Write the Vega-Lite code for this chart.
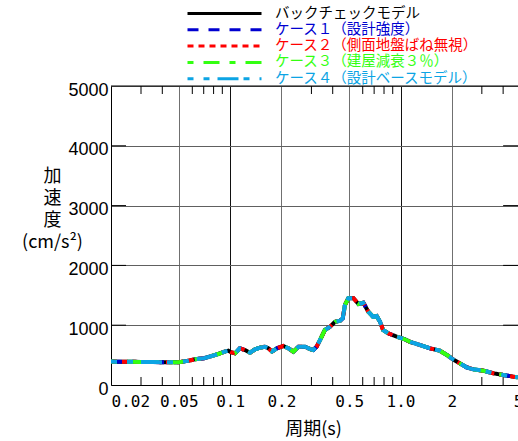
{
  "$schema": "https://vega.github.io/schema/vega-lite/v6.json",
  "width": 407,
  "height": 299,
  "autosize": "none",
  "padding": {"left": 111, "top": 86, "right": 0, "bottom": 56},
  "config": {"view": {"stroke": null}, "font": "Noto Sans CJK JP"},
  "layer": [
    {
      "data": {"values": [{"T": 0.03}, {"T": 0.04}, {"T": 0.06}, {"T": 0.07}, {"T": 0.08}, {"T": 0.09}, {"T": 0.3}, {"T": 0.4}, {"T": 0.6}, {"T": 0.7}, {"T": 0.8}, {"T": 0.9}, {"T": 3}, {"T": 4}]},
      "mark": {"type": "rule", "color": "black", "strokeWidth": 1},
      "encoding": {"x": {"field": "T", "type": "quantitative"}, "y": {"datum": 0}, "y2": {"datum": 134}}
    },
    {
      "data": {"values": [{"T": 0.03}, {"T": 0.04}, {"T": 0.06}, {"T": 0.07}, {"T": 0.08}, {"T": 0.09}, {"T": 0.3}, {"T": 0.4}, {"T": 0.6}, {"T": 0.7}, {"T": 0.8}, {"T": 0.9}, {"T": 3}, {"T": 4}]},
      "mark": {"type": "rule", "color": "black", "strokeWidth": 1},
      "encoding": {"x": {"field": "T", "type": "quantitative"}, "y": {"datum": 5000}, "y2": {"datum": 4866}}
    },
    {
      "data": {"values": [{"v": 1000}, {"v": 2000}, {"v": 3000}, {"v": 4000}]},
      "mark": {"type": "rule", "color": "black", "strokeWidth": 1},
      "encoding": {"y": {"field": "v", "type": "quantitative"}, "x": {"datum": 0.02}, "x2": {"datum": 0.0245}}
    },
    {
      "data": {"values": [{"v": 1000}, {"v": 2000}, {"v": 3000}, {"v": 4000}]},
      "mark": {"type": "rule", "color": "black", "strokeWidth": 1},
      "encoding": {"y": {"field": "v", "type": "quantitative"}, "x": {"datum": 4.0}, "x2": {"datum": 4.89}}
    },
    {
      "data": {"values": [{}]},
      "mark": {"type": "rule", "color": "black", "strokeWidth": 1},
      "encoding": {"y": {"datum": 5000}}
    },
    {
      "data": {"values": [
        {"T": 0.02, "バックチェックモデル": 392, "ケース１（設計強度）": 392, "ケース２（側面地盤ばね無視）": 393, "ケース３（建屋減衰３％）": 391, "ケース４（設計ベースモデル）": 392},
        {"T": 0.025, "バックチェックモデル": 388, "ケース１（設計強度）": 388, "ケース２（側面地盤ばね無視）": 388, "ケース３（建屋減衰３％）": 388, "ケース４（設計ベースモデル）": 388},
        {"T": 0.03, "バックチェックモデル": 386, "ケース１（設計強度）": 386, "ケース２（側面地盤ばね無視）": 386, "ケース３（建屋減衰３％）": 386, "ケース４（設計ベースモデル）": 386},
        {"T": 0.035, "バックチェックモデル": 384, "ケース１（設計強度）": 384, "ケース２（側面地盤ばね無視）": 384, "ケース３（建屋減衰３％）": 384, "ケース４（設計ベースモデル）": 384},
        {"T": 0.04, "バックチェックモデル": 382, "ケース１（設計強度）": 382, "ケース２（側面地盤ばね無視）": 382, "ケース３（建屋減衰３％）": 382, "ケース４（設計ベースモデル）": 382},
        {"T": 0.045, "バックチェックモデル": 381, "ケース１（設計強度）": 381, "ケース２（側面地盤ばね無視）": 381, "ケース３（建屋減衰３％）": 381, "ケース４（設計ベースモデル）": 381},
        {"T": 0.05, "バックチェックモデル": 382, "ケース１（設計強度）": 382, "ケース２（側面地盤ばね無視）": 382, "ケース３（建屋減衰３％）": 382, "ケース４（設計ベースモデル）": 382},
        {"T": 0.054, "バックチェックモデル": 395, "ケース１（設計強度）": 395, "ケース２（側面地盤ばね無視）": 395, "ケース３（建屋減衰３％）": 395, "ケース４（設計ベースモデル）": 395},
        {"T": 0.057, "バックチェックモデル": 406, "ケース１（設計強度）": 406, "ケース２（側面地盤ばね無視）": 406, "ケース３（建屋減衰３％）": 406, "ケース４（設計ベースモデル）": 406},
        {"T": 0.062, "バックチェックモデル": 430, "ケース１（設計強度）": 430, "ケース２（側面地盤ばね無視）": 430, "ケース３（建屋減衰３％）": 430, "ケース４（設計ベースモデル）": 430},
        {"T": 0.07, "バックチェックモデル": 446, "ケース１（設計強度）": 446, "ケース２（側面地盤ばね無視）": 446, "ケース３（建屋減衰３％）": 446, "ケース４（設計ベースモデル）": 446},
        {"T": 0.078, "バックチェックモデル": 485, "ケース１（設計強度）": 485, "ケース２（側面地盤ばね無視）": 485, "ケース３（建屋減衰３％）": 485, "ケース４（設計ベースモデル）": 485},
        {"T": 0.085, "バックチェックモデル": 518, "ケース１（設計強度）": 518, "ケース２（側面地盤ばね無視）": 518, "ケース３（建屋減衰３％）": 518, "ケース４（設計ベースモデル）": 518},
        {"T": 0.092, "バックチェックモデル": 555, "ケース１（設計強度）": 555, "ケース２（側面地盤ばね無視）": 555, "ケース３（建屋減衰３％）": 555, "ケース４（設計ベースモデル）": 555},
        {"T": 0.0977, "バックチェックモデル": 574, "ケース１（設計強度）": 574, "ケース２（側面地盤ばね無視）": 574, "ケース３（建屋減衰３％）": 574, "ケース４（設計ベースモデル）": 574},
        {"T": 0.102, "バックチェックモデル": 545, "ケース１（設計強度）": 545, "ケース２（側面地盤ばね無視）": 545, "ケース３（建屋減衰３％）": 545, "ケース４（設計ベースモデル）": 545},
        {"T": 0.107, "バックチェックモデル": 530, "ケース１（設計強度）": 530, "ケース２（側面地盤ばね無視）": 530, "ケース３（建屋減衰３％）": 530, "ケース４（設計ベースモデル）": 530},
        {"T": 0.114, "バックチェックモデル": 613, "ケース１（設計強度）": 613, "ケース２（側面地盤ばね無視）": 613, "ケース３（建屋減衰３％）": 613, "ケース４（設計ベースモデル）": 613},
        {"T": 0.122, "バックチェックモデル": 585, "ケース１（設計強度）": 585, "ケース２（側面地盤ばね無視）": 585, "ケース３（建屋減衰３％）": 585, "ケース４（設計ベースモデル）": 585},
        {"T": 0.131, "バックチェックモデル": 540, "ケース１（設計強度）": 540, "ケース２（側面地盤ばね無視）": 540, "ケース３（建屋減衰３％）": 540, "ケース４（設計ベースモデル）": 540},
        {"T": 0.14, "バックチェックモデル": 596, "ケース１（設計強度）": 596, "ケース２（側面地盤ばね無視）": 596, "ケース３（建屋減衰３％）": 596, "ケース４（設計ベースモデル）": 596},
        {"T": 0.15, "バックチェックモデル": 625, "ケース１（設計強度）": 625, "ケース２（側面地盤ばね無視）": 625, "ケース３（建屋減衰３％）": 625, "ケース４（設計ベースモデル）": 625},
        {"T": 0.16, "バックチェックモデル": 640, "ケース１（設計強度）": 640, "ケース２（側面地盤ばね無視）": 640, "ケース３（建屋減衰３％）": 640, "ケース４（設計ベースモデル）": 640},
        {"T": 0.168, "バックチェックモデル": 613, "ケース１（設計強度）": 613, "ケース２（側面地盤ばね無視）": 613, "ケース３（建屋減衰３％）": 613, "ケース４（設計ベースモデル）": 613},
        {"T": 0.176, "バックチェックモデル": 560, "ケース１（設計強度）": 560, "ケース２（側面地盤ばね無視）": 560, "ケース３（建屋減衰３％）": 560, "ケース４（設計ベースモデル）": 560},
        {"T": 0.188, "バックチェックモデル": 613, "ケース１（設計強度）": 613, "ケース２（側面地盤ばね無視）": 613, "ケース３（建屋減衰３％）": 613, "ケース４（設計ベースモデル）": 613},
        {"T": 0.205, "バックチェックモデル": 652, "ケース１（設計強度）": 652, "ケース２（側面地盤ばね無視）": 652, "ケース３（建屋減衰３％）": 652, "ケース４（設計ベースモデル）": 652},
        {"T": 0.22, "バックチェックモデル": 613, "ケース１（設計強度）": 613, "ケース２（側面地盤ばね無視）": 613, "ケース３（建屋減衰３％）": 613, "ケース４（設計ベースモデル）": 613},
        {"T": 0.235, "バックチェックモデル": 557, "ケース１（設計強度）": 557, "ケース２（側面地盤ばね無視）": 557, "ケース３（建屋減衰３％）": 557, "ケース４（設計ベースモデル）": 557},
        {"T": 0.252, "バックチェックモデル": 640, "ケース１（設計強度）": 640, "ケース２（側面地盤ばね無視）": 640, "ケース３（建屋減衰３％）": 640, "ケース４（設計ベースモデル）": 640},
        {"T": 0.275, "バックチェックモデル": 641, "ケース１（設計強度）": 641, "ケース２（側面地盤ばね無視）": 641, "ケース３（建屋減衰３％）": 641, "ケース４（設計ベースモデル）": 641},
        {"T": 0.295, "バックチェックモデル": 600, "ケース１（設計強度）": 600, "ケース２（側面地盤ばね無視）": 600, "ケース３（建屋減衰３％）": 600, "ケース４（設計ベースモデル）": 600},
        {"T": 0.308, "バックチェックモデル": 585, "ケース１（設計強度）": 585, "ケース２（側面地盤ばね無視）": 585, "ケース３（建屋減衰３％）": 585, "ケース４（設計ベースモデル）": 585},
        {"T": 0.322, "バックチェックモデル": 641, "ケース１（設計強度）": 641, "ケース２（側面地盤ばね無視）": 641, "ケース３（建屋減衰３％）": 641, "ケース４（設計ベースモデル）": 641},
        {"T": 0.337, "バックチェックモデル": 752, "ケース１（設計強度）": 752, "ケース２（側面地盤ばね無視）": 752, "ケース３（建屋減衰３％）": 752, "ケース４（設計ベースモデル）": 752},
        {"T": 0.36, "バックチェックモデル": 920, "ケース１（設計強度）": 920, "ケース２（側面地盤ばね無視）": 920, "ケース３（建屋減衰３％）": 920, "ケース４（設計ベースモデル）": 920},
        {"T": 0.386, "バックチェックモデル": 975, "ケース１（設計強度）": 975, "ケース２（側面地盤ばね無視）": 975, "ケース３（建屋減衰３％）": 975, "ケース４（設計ベースモデル）": 975},
        {"T": 0.413, "バックチェックモデル": 1058, "ケース１（設計強度）": 1058, "ケース２（側面地盤ばね無視）": 1058, "ケース３（建屋減衰３％）": 1058, "ケース４（設計ベースモデル）": 1058},
        {"T": 0.442, "バックチェックモデル": 1075, "ケース１（設計強度）": 1075, "ケース２（側面地盤ばね無視）": 1075, "ケース３（建屋減衰３％）": 1075, "ケース４（設計ベースモデル）": 1075},
        {"T": 0.458, "バックチェックモデル": 1115, "ケース１（設計強度）": 1115, "ケース２（側面地盤ばね無視）": 1115, "ケース３（建屋減衰３％）": 1115, "ケース４（設計ベースモデル）": 1115},
        {"T": 0.472, "バックチェックモデル": 1338, "ケース１（設計強度）": 1338, "ケース２（側面地盤ばね無視）": 1338, "ケース３（建屋減衰３％）": 1338, "ケース４（設計ベースモデル）": 1338},
        {"T": 0.494, "バックチェックモデル": 1450, "ケース１（設計強度）": 1450, "ケース２（側面地盤ばね無視）": 1450, "ケース３（建屋減衰３％）": 1450, "ケース４（設計ベースモデル）": 1450},
        {"T": 0.53, "バックチェックモデル": 1450, "ケース１（設計強度）": 1450, "ケース２（側面地盤ばね無視）": 1450, "ケース３（建屋減衰３％）": 1450, "ケース４（設計ベースモデル）": 1450},
        {"T": 0.566, "バックチェックモデル": 1354, "ケース１（設計強度）": 1354, "ケース２（側面地盤ばね無視）": 1354, "ケース３（建屋減衰３％）": 1354, "ケース４（設計ベースモデル）": 1354},
        {"T": 0.605, "バックチェックモデル": 1376, "ケース１（設計強度）": 1376, "ケース２（側面地盤ばね無視）": 1376, "ケース３（建屋減衰３％）": 1376, "ケース４（設計ベースモデル）": 1376},
        {"T": 0.647, "バックチェックモデル": 1226, "ケース１（設計強度）": 1226, "ケース２（側面地盤ばね無視）": 1226, "ケース３（建屋減衰３％）": 1226, "ケース４（設計ベースモデル）": 1226},
        {"T": 0.69, "バックチェックモデル": 1142, "ケース１（設計強度）": 1142, "ケース２（側面地盤ばね無視）": 1142, "ケース３（建屋減衰３％）": 1142, "ケース４（設計ベースモデル）": 1142},
        {"T": 0.724, "バックチェックモデル": 1154, "ケース１（設計強度）": 1154, "ケース２（側面地盤ばね無視）": 1154, "ケース３（建屋減衰３％）": 1154, "ケース４（設計ベースモデル）": 1154},
        {"T": 0.758, "バックチェックモデル": 1058, "ケース１（設計強度）": 1058, "ケース２（側面地盤ばね無視）": 1058, "ケース３（建屋減衰３％）": 1058, "ケース４（設計ベースモデル）": 1058},
        {"T": 0.79, "バックチェックモデル": 920, "ケース１（設計強度）": 920, "ケース２（側面地盤ばね無視）": 920, "ケース３（建屋減衰３％）": 920, "ケース４（設計ベースモデル）": 920},
        {"T": 0.847, "バックチェックモデル": 864, "ケース１（設計強度）": 864, "ケース２（側面地盤ばね無視）": 864, "ケース３（建屋減衰３％）": 864, "ケース４（設計ベースモデル）": 864},
        {"T": 0.95, "バックチェックモデル": 808, "ケース１（設計強度）": 808, "ケース２（側面地盤ばね無視）": 808, "ケース３（建屋減衰３％）": 808, "ケース４（設計ベースモデル）": 808},
        {"T": 1.06, "バックチェックモデル": 764, "ケース１（設計強度）": 764, "ケース２（側面地盤ばね無視）": 764, "ケース３（建屋減衰３％）": 764, "ケース４（設計ベースモデル）": 764},
        {"T": 1.13, "バックチェックモデル": 724, "ケース１（設計強度）": 724, "ケース２（側面地盤ばね無視）": 724, "ケース３（建屋減衰３％）": 724, "ケース４（設計ベースモデル）": 724},
        {"T": 1.3, "バックチェックモデル": 669, "ケース１（設計強度）": 669, "ケース２（側面地盤ばね無視）": 669, "ケース３（建屋減衰３％）": 669, "ケース４（設計ベースモデル）": 669},
        {"T": 1.49, "バックチェックモデル": 613, "ケース１（設計強度）": 613, "ケース２（側面地盤ばね無視）": 613, "ケース３（建屋減衰３％）": 613, "ケース４（設計ベースモデル）": 613},
        {"T": 1.7, "バックチェックモデル": 574, "ケース１（設計強度）": 574, "ケース２（側面地盤ばね無視）": 574, "ケース３（建屋減衰３％）": 574, "ケース４（設計ベースモデル）": 574},
        {"T": 1.87, "バックチェックモデル": 502, "ケース１（設計強度）": 502, "ケース２（側面地盤ばね無視）": 502, "ケース３（建屋減衰３％）": 502, "ケース４（設計ベースモデル）": 502},
        {"T": 2.03, "バックチェックモデル": 430, "ケース１（設計強度）": 430, "ケース２（側面地盤ばね無視）": 430, "ケース３（建屋減衰３％）": 430, "ケース４（設計ベースモデル）": 430},
        {"T": 2.23, "バックチェックモデル": 362, "ケース１（設計強度）": 362, "ケース２（側面地盤ばね無視）": 362, "ケース３（建屋減衰３％）": 362, "ケース４（設計ベースモデル）": 362},
        {"T": 2.44, "バックチェックモデル": 296, "ケース１（設計強度）": 296, "ケース２（側面地盤ばね無視）": 296, "ケース３（建屋減衰３％）": 296, "ケース４（設計ベースモデル）": 296},
        {"T": 2.67, "バックチェックモデル": 262, "ケース１（設計強度）": 262, "ケース２（側面地盤ばね無視）": 262, "ケース３（建屋減衰３％）": 262, "ケース４（設計ベースモデル）": 262},
        {"T": 3.06, "バックチェックモデル": 240, "ケース１（設計強度）": 240, "ケース２（側面地盤ばね無視）": 240, "ケース３（建屋減衰３％）": 240, "ケース４（設計ベースモデル）": 240},
        {"T": 3.5, "バックチェックモデル": 196, "ケース１（設計強度）": 196, "ケース２（側面地盤ばね無視）": 196, "ケース３（建屋減衰３％）": 196, "ケース４（設計ベースモデル）": 196},
        {"T": 4.01, "バックチェックモデル": 167, "ケース１（設計強度）": 167, "ケース２（側面地盤ばね無視）": 167, "ケース３（建屋減衰３％）": 167, "ケース４（設計ベースモデル）": 167},
        {"T": 4.59, "バックチェックモデル": 139, "ケース１（設計強度）": 139, "ケース２（側面地盤ばね無視）": 139, "ケース３（建屋減衰３％）": 139, "ケース４（設計ベースモデル）": 139},
        {"T": 4.89, "バックチェックモデル": 129, "ケース１（設計強度）": 129, "ケース２（側面地盤ばね無視）": 129, "ケース３（建屋減衰３％）": 129, "ケース４（設計ベースモデル）": 129}
      ]},
      "transform": [{"fold": ["バックチェックモデル", "ケース１（設計強度）", "ケース２（側面地盤ばね無視）", "ケース３（建屋減衰３％）", "ケース４（設計ベースモデル）"], "as": ["case", "a"]}],
      "mark": {"type": "line", "strokeWidth": 4, "clip": true},
      "encoding": {
        "x": {
          "field": "T", "type": "quantitative",
          "scale": {"type": "log", "domain": [0.02, 4.89], "nice": false},
          "axis": {
            "values": [0.02, 0.05, 0.1, 0.2, 0.5, 1, 2, 4.89],
            "labelExpr": "datum.value == 1 ? '1.0' : (datum.value > 4 ? '5' : '' + datum.value)",
            "grid": true,
            "gridColor": {"condition": {"test": "datum.value == 0.1 || datum.value == 1", "value": "#111111"}, "value": "#707070"},
            "gridOpacity": 1,
            "gridWidth": 1,
            "ticks": false,
            "domainColor": "black",
            "labelFont": "DejaVu Sans Mono",
            "labelFontSize": 16,
            "labelColor": "black",
            "labelPadding": 8,
            "labelAlign": {"condition": {"test": "datum.value == 0.02", "value": "left"}, "value": "center"},
            "labelOverlap": false,
            "labelBound": false,
            "title": "周期(s)",
            "titleFont": "Noto Sans CJK JP",
            "titleFontSize": 18,
            "titleFontWeight": "normal",
            "titleColor": "black",
            "titleX": 202,
            "titleY": 44,
            "titleBaseline": "middle"
          }
        },
        "y": {
          "field": "a", "type": "quantitative",
          "scale": {"domain": [0, 5000], "nice": false},
          "axis": {
            "values": [0, 1000, 2000, 3000, 4000, 5000],
            "format": "d",
            "grid": true,
            "gridColor": "#606060",
            "gridOpacity": 1,
            "ticks": false,
            "domainColor": "black",
            "labelFont": "Liberation Sans",
            "labelFontSize": 18,
            "labelColor": "black",
            "labelPadding": 3,
            "labelOffset": 4,
            "title": ["加", "速", "度", "(cm/s²)"],
            "titleFont": "Noto Sans CJK JP",
            "titleFontSize": 18,
            "titleFontWeight": "normal",
            "titleColor": "black",
            "titleAngle": 0,
            "titleAlign": "center",
            "titleBaseline": "top",
            "titleLineHeight": 22,
            "titleX": -59,
            "titleY": 81
          }
        },
        "color": {
          "field": "case", "type": "nominal",
          "scale": {
            "domain": ["バックチェックモデル", "ケース１（設計強度）", "ケース２（側面地盤ばね無視）", "ケース３（建屋減衰３％）", "ケース４（設計ベースモデル）"],
            "range": ["#000000", "#0000d0", "#ff0000", "#33ff11", "#0ca4e4"]
          },
          "legend": {
            "orient": "none", "legendX": 75, "legendY": -80, "title": null,
            "symbolType": "stroke", "symbolSize": 5476, "symbolStrokeWidth": 3,
            "labelFont": "Noto Sans CJK JP", "labelFontSize": 14.5, "labelOffset": 12, "labelLimit": 400,
            "rowPadding": 0.3, "clipHeight": 15, "padding": 0,
            "encode": {"labels": {"update": {"fill": {"scale": "color", "field": "value"}}}, "symbols": {"update": {"strokeWidth": {"value": 3}}}}
          }
        },
        "strokeDash": {
          "field": "case", "type": "nominal",
          "scale": {
            "domain": ["バックチェックモデル", "ケース１（設計強度）", "ケース２（側面地盤ばね無視）", "ケース３（建屋減衰３％）", "ケース４（設計ベースモデル）"],
            "range": [[1, 0], [11, 10], [6, 5], [6, 10, 16, 10], [6, 10, 6, 8, 21, 5]]
          },
          "legend": {
            "orient": "none", "legendX": 75, "legendY": -80, "title": null,
            "symbolType": "stroke", "symbolSize": 5476, "symbolStrokeWidth": 3,
            "labelFont": "Noto Sans CJK JP", "labelFontSize": 14.5, "labelOffset": 12, "labelLimit": 400,
            "rowPadding": 0.3, "clipHeight": 15, "padding": 0,
            "encode": {"labels": {"update": {"fill": {"scale": "color", "field": "value"}}}, "symbols": {"update": {"strokeWidth": {"value": 3}}}}
          }
        }
      }
    }
  ]
}
